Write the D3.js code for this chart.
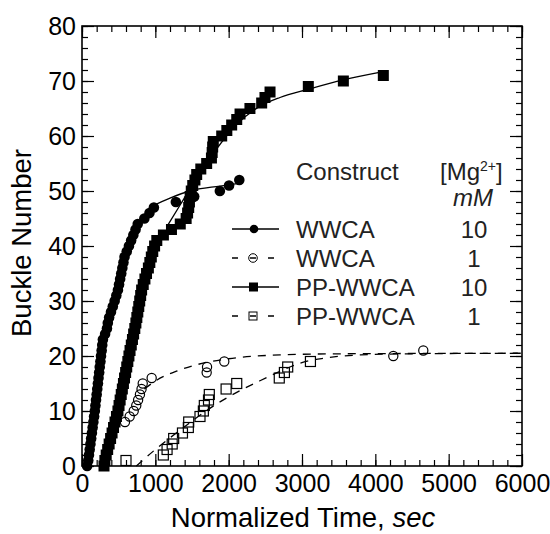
<!DOCTYPE html>
<html>
<head>
<meta charset="utf-8">
<script src="https://cdn.jsdelivr.net/npm/d3@7"></script>
<style>
body { margin: 0; background: #fff; }
text { font-family: "Liberation Sans", Arial, sans-serif; }
</style>
</head>
<body>
<div id="chart"></div>
<script>
var xTicks = [0, 1000, 2000, 3000, 4000, 5000, 6000];
var yTicks = [0, 10, 20, 30, 40, 50, 60, 70, 80];

// WWCA, 10 mM (filled circles)
var wwca10Time = [70, 85, 95, 105, 115, 125, 135, 145, 155, 165, 175, 183, 191, 200, 208, 217, 225, 234, 242, 251,
    259, 268, 276, 285, 315, 340, 352, 370, 395, 420, 445, 468, 490, 505, 520, 535, 550, 565, 580, 610,
    640, 670, 700, 730, 760, 850, 920, 980, 1280, 1530, 1880, 2005, 2145];
var wwca10Count = [0, 1, 2, 3, 4, 5, 6, 7, 8, 9, 10, 11, 12, 13, 14, 15, 16, 17, 18, 19,
    20, 21, 22, 23, 24, 25, 26, 27, 28, 29, 30, 31, 32, 33, 34, 35, 36, 37, 38, 39,
    40, 41, 42, 43, 44, 45, 46, 47, 48, 49, 50, 51, 52];

// WWCA, 1 mM (open circles)
var wwca1Time = [586, 650, 705, 740, 765, 790, 812, 828, 950, 1700, 1705, 1940, 4245, 4654];
var wwca1Count = [8, 9, 10, 11, 12, 13, 14, 15, 16, 17, 18, 19, 20, 21];

// PP-WWCA, 10 mM (filled squares)
var pp10Time = [300, 312, 330, 350, 370, 390, 410, 430, 450, 470, 490, 505, 520, 535, 550, 565, 580, 595, 610, 625,
    640, 655, 672, 688, 704, 720, 735, 748, 761, 774, 787, 800, 813, 835, 858, 880, 905, 925, 945, 965,
    990, 1020, 1110, 1220, 1340, 1420, 1440, 1455, 1465, 1475, 1490, 1510, 1540, 1564, 1620, 1700, 1765, 1775, 1782, 1790,
    1905, 1975, 2041, 2110, 2155, 2290, 2450, 2495, 2564, 3086, 3564, 4109];
var pp10Count = [0, 1, 2, 3, 4, 5, 6, 7, 8, 9, 10, 11, 12, 13, 14, 15, 16, 17, 18, 19,
    20, 21, 22, 23, 24, 25, 26, 27, 28, 29, 30, 31, 32, 33, 34, 35, 36, 37, 38, 39,
    40, 41, 42, 43, 44, 45, 46, 47, 48, 49, 50, 51, 52, 53, 54, 55, 56, 57, 58, 59,
    60, 61, 62, 63, 64, 65, 66, 67, 68, 69, 70, 71];

// PP-WWCA, 1 mM (open squares)
var pp1Time = [600, 1109, 1160, 1230, 1250, 1370, 1450, 1455, 1609, 1655, 1668, 1725, 1736, 1965, 2110, 2690, 2760, 2805, 3115];
var pp1Count = [1, 2, 3, 4, 5, 6, 7, 8, 9, 10, 11, 12, 13, 14, 15, 16, 17, 18, 19];

// fitted curves
var wwca10FitTime = [950, 1200, 1470, 1880, 2150];
var wwca10FitCount = [47.2, 48.7, 50.0, 50.9, 51.4];
var pp10FitTime = [1170, 1340, 1500, 1800, 2100, 2400, 2700, 3086, 3564, 4109];
var pp10FitCount = [43.8, 47.5, 51, 57, 62, 65.2, 67, 68.5, 70.2, 71.7];
var wwca1FitTime = [850, 1018, 1300, 1650, 2000, 2700, 3500, 6000];
var wwca1FitCount = [14.0, 15.6, 17.3, 18.7, 19.5, 20.2, 20.4, 20.5];
var pp1FitTime = [740, 1018, 1336, 1814, 2155, 2427, 2700, 2973, 3300, 3800, 4500, 6000];
var pp1FitCount = [0, 3.2, 6.5, 11.1, 13.7, 15.5, 17.2, 18.7, 19.6, 20.2, 20.4, 20.5];

var legendNames = ["WWCA", "WWCA", "PP-WWCA", "PP-WWCA"];
var legendMg = ["10", "1", "10", "1"];

function drawChart() {
    var margin = {top: 26, right: 28, bottom: 68, left: 82},
        width = 550 - margin.left - margin.right,
        height = 534 - margin.top - margin.bottom;

    var svg = d3.select('#chart')
        .append('svg')
        .attr('width', 550)
        .attr('height', 534);

    var g = svg.append('g')
        .attr('transform', 'translate(' + margin.left + ',' + margin.top + ')');

    var x = d3.scaleLinear().domain([0, 6000]).range([0, width]);
    var y = d3.scaleLinear().domain([0, 80]).range([height, 0]);

    var minorX = d3.range(0, 6001, 200);
    var minorY = d3.range(0, 81, 2);

    // ticks on all four sides, pointing inward
    function tickStyle(sel) {
        sel.select('.domain').remove();
        sel.selectAll('line').attr('stroke', '#000').attr('stroke-width', 1.2);
        sel.selectAll('text').attr('font-size', 25).attr('fill', '#000')
            .style('font-family', '"Liberation Sans", Arial, sans-serif');
    }

    g.append('g').attr('transform', 'translate(0,' + height + ')')
        .call(d3.axisBottom(x).tickValues(minorX).tickSize(-6).tickFormat('')).call(tickStyle);
    g.append('g').attr('transform', 'translate(0,' + height + ')')
        .call(d3.axisBottom(x).tickValues(xTicks).tickSize(-12).tickPadding(8).tickFormat(d3.format('d')))
        .call(tickStyle);
    g.append('g')
        .call(d3.axisTop(x).tickValues(minorX).tickSize(-6).tickFormat('')).call(tickStyle);
    g.append('g')
        .call(d3.axisTop(x).tickValues(xTicks).tickSize(-12).tickFormat('')).call(tickStyle);

    g.append('g')
        .call(d3.axisLeft(y).tickValues(minorY).tickSize(-6).tickFormat('')).call(tickStyle);
    g.append('g')
        .call(d3.axisLeft(y).tickValues(yTicks).tickSize(-12).tickPadding(6).tickFormat(d3.format('d')))
        .call(tickStyle);
    g.append('g').attr('transform', 'translate(' + width + ',0)')
        .call(d3.axisRight(y).tickValues(minorY).tickSize(-6).tickFormat('')).call(tickStyle);
    g.append('g').attr('transform', 'translate(' + width + ',0)')
        .call(d3.axisRight(y).tickValues(yTicks).tickSize(-12).tickFormat('')).call(tickStyle);

    g.append('rect')
        .attr('width', width)
        .attr('height', height)
        .attr('fill', 'none')
        .attr('stroke', '#000')
        .attr('stroke-width', 1.6);

    // fit lines
    var line = d3.line()
        .x(function(d) { return x(d[0]); })
        .y(function(d) { return y(d[1]); })
        .curve(d3.curveMonotoneX);

    function fit(times, counts, dashed) {
        g.append('path')
            .datum(d3.zip(times, counts))
            .attr('d', line)
            .attr('fill', 'none')
            .attr('stroke', '#000')
            .attr('stroke-width', 1.3)
            .attr('stroke-dasharray', dashed ? '8,7' : null);
    }
    fit(wwca1FitTime, wwca1FitCount, true);
    fit(pp1FitTime, pp1FitCount, true);
    fit(wwca10FitTime, wwca10FitCount, false);
    fit(pp10FitTime, pp10FitCount, false);

    // open markers
    g.selectAll('.wwca1')
        .data(d3.zip(wwca1Time, wwca1Count))
        .enter().append('circle')
        .attr('class', 'wwca1')
        .attr('cx', function(d) { return x(d[0]); })
        .attr('cy', function(d) { return y(d[1]); })
        .attr('r', 4.6)
        .attr('fill', 'none')
        .attr('stroke', '#000')
        .attr('stroke-width', 1.2);

    g.selectAll('.pp1')
        .data(d3.zip(pp1Time, pp1Count))
        .enter().append('rect')
        .attr('class', 'pp1')
        .attr('x', function(d) { return x(d[0]) - 5; })
        .attr('y', function(d) { return y(d[1]) - 5; })
        .attr('width', 10)
        .attr('height', 10)
        .attr('fill', 'none')
        .attr('stroke', '#000')
        .attr('stroke-width', 1.2);

    // filled markers
    g.selectAll('.wwca10')
        .data(d3.zip(wwca10Time, wwca10Count))
        .enter().append('circle')
        .attr('class', 'wwca10')
        .attr('cx', function(d) { return x(d[0]); })
        .attr('cy', function(d) { return y(d[1]); })
        .attr('r', 5.3)
        .attr('fill', '#000');

    g.selectAll('.pp10')
        .data(d3.zip(pp10Time, pp10Count))
        .enter().append('rect')
        .attr('class', 'pp10')
        .attr('x', function(d) { return x(d[0]) - 5.5; })
        .attr('y', function(d) { return y(d[1]) - 5.5; })
        .attr('width', 11)
        .attr('height', 11)
        .attr('fill', '#000');

    // legend
    var lg = svg.append('g').attr('fill', '#222').attr('font-size', 24);
    lg.append('text').attr('x', 296).attr('y', 180).text('Construct');
    var mg = lg.append('text').attr('x', 440).attr('y', 180);
    mg.append('tspan').text('[Mg');
    mg.append('tspan').attr('font-size', 14).attr('dy', -9).text('2+');
    mg.append('tspan').attr('dy', 9).text(']');
    lg.append('text').attr('x', 473).attr('y', 206).attr('text-anchor', 'middle')
        .attr('font-style', 'italic').text('mM');

    var rowY = [229, 258, 287, 316];
    legendNames.forEach(function(name, i) {
        var cy = rowY[i];
        var dashed = (i % 2 === 1);
        lg.append('line')
            .attr('x1', 232).attr('x2', dashed ? 275 : 279)
            .attr('y1', cy).attr('y2', cy)
            .attr('stroke', '#000')
            .attr('stroke-width', 1.3)
            .attr('stroke-dasharray', dashed ? '6,12' : null);
        if (i === 0) {
            lg.append('circle').attr('cx', 254).attr('cy', cy).attr('r', 4.3).attr('fill', '#000');
        } else if (i === 1) {
            lg.append('circle').attr('cx', 253).attr('cy', cy).attr('r', 4.3)
                .attr('fill', 'none').attr('stroke', '#000').attr('stroke-width', 1);
        } else if (i === 2) {
            lg.append('rect').attr('x', 249).attr('y', cy - 4.5).attr('width', 9).attr('height', 9).attr('fill', '#000');
        } else {
            lg.append('rect').attr('x', 249).attr('y', cy - 4).attr('width', 8).attr('height', 8)
                .attr('fill', 'none').attr('stroke', '#000').attr('stroke-width', 1);
        }
        lg.append('text').attr('x', 296).attr('y', cy + 8.5).text(name);
        lg.append('text').attr('x', 474).attr('y', cy + 8.5).attr('text-anchor', 'middle').text(legendMg[i]);
    });

    // axis titles
    svg.append('text')
        .attr('transform', 'translate(31,243) rotate(-90)')
        .attr('text-anchor', 'middle')
        .attr('font-size', 27.5)
        .attr('fill', '#000')
        .text('Buckle Number');

    var xt = svg.append('text')
        .attr('x', 303)
        .attr('y', 527)
        .attr('text-anchor', 'middle')
        .attr('font-size', 27.5)
        .attr('fill', '#000');
    xt.append('tspan').text('Normalized Time, ');
    xt.append('tspan').attr('font-style', 'italic').text('sec');
}

drawChart();
</script>
</body>
</html>
